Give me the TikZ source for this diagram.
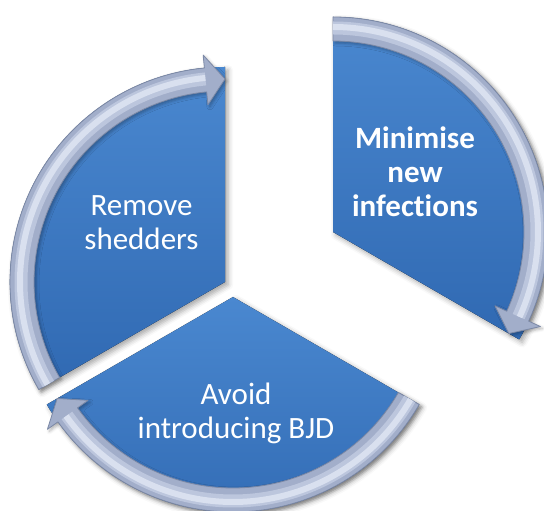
\documentclass[tikz,border=0pt]{standalone}
\usepackage{fontspec}
\setmainfont[Ligatures=NoCommon]{Carlito}
\usetikzlibrary{shadows.blur}
\definecolor{secA}{HTML}{4A88D0}
\definecolor{secB}{HTML}{3069B2}
\definecolor{bandmid}{HTML}{A2AECA}
\definecolor{bandsoft}{HTML}{BCC6DD}
\definecolor{bandlight}{HTML}{D9E0EF}
\definecolor{bandedge}{HTML}{7C89A6}
\tikzset{
  sectorfill/.style={top color=secA, bottom color=secB,
    blur shadow={shadow xshift=3pt, shadow yshift=-3pt, shadow blur radius=5pt, shadow opacity=35}},
  bandfill/.style={fill=bandmid, draw=bandedge, line width=0.8pt, line join=round,
    blur shadow={shadow xshift=2pt, shadow yshift=-2pt, shadow blur radius=3pt, shadow opacity=30}},
  bandsoftline/.style={draw=bandsoft, line width=13pt, line cap=butt},
  bandhl/.style={draw=bandlight, line width=6pt, line cap=butt},
  lbl/.style={text=white, align=center, inner sep=0pt, font=\fontsize{31}{34}\selectfont}
}
\newcommand\cyclepart[3]{%
  \pgfmathsetmacro\cpb{#3+5.5}%
  \fill[sectorfill] (#1) -- ([shift={(#1)}]#2:215pt) arc[start angle=#2, end angle=#3, radius=215pt] -- cycle;
  \path[bandfill] ([shift={(#1)}]#2:215pt) arc[start angle=#2, end angle=\cpb, radius=215pt]
    -- ([shift={(#1)}]\cpb:228pt) -- ([shift={(#1)}]#3:203pt) -- ([shift={(#1)}]\cpb:178pt)
    -- ([shift={(#1)}]\cpb:191pt) arc[start angle=\cpb, end angle=#2, radius=191pt] -- cycle;
  \draw[bandsoftline] ([shift={(#1)}]#2:204pt) arc[start angle=#2, end angle=\cpb, radius=204pt];
  \draw[bandhl] ([shift={(#1)}]#2:205pt) arc[start angle=#2, end angle=\cpb, radius=205pt];
}
\begin{document}
\begin{tikzpicture}[x=1pt,y=1pt]
\useasboundingbox (0,0) rectangle (544,511);
\coordinate (apexM) at (333,279);
\coordinate (apexR) at (225,229);
\coordinate (apexA) at (233,214);
\cyclepart{apexR}{210}{90}
\cyclepart{apexA}{330}{210}
\cyclepart{apexM}{90}{-30}
\node[lbl, font=\fontsize{31}{34}\selectfont\bfseries] (minimise) at (415,339) {Minimise\\new\\infections};
\node[lbl] (remove) at (141.5,288.5) {Remove\\shedders};
\node[lbl] (avoid) at (236,98) {Avoid\\introducing BJD};
\end{tikzpicture}
\end{document}
